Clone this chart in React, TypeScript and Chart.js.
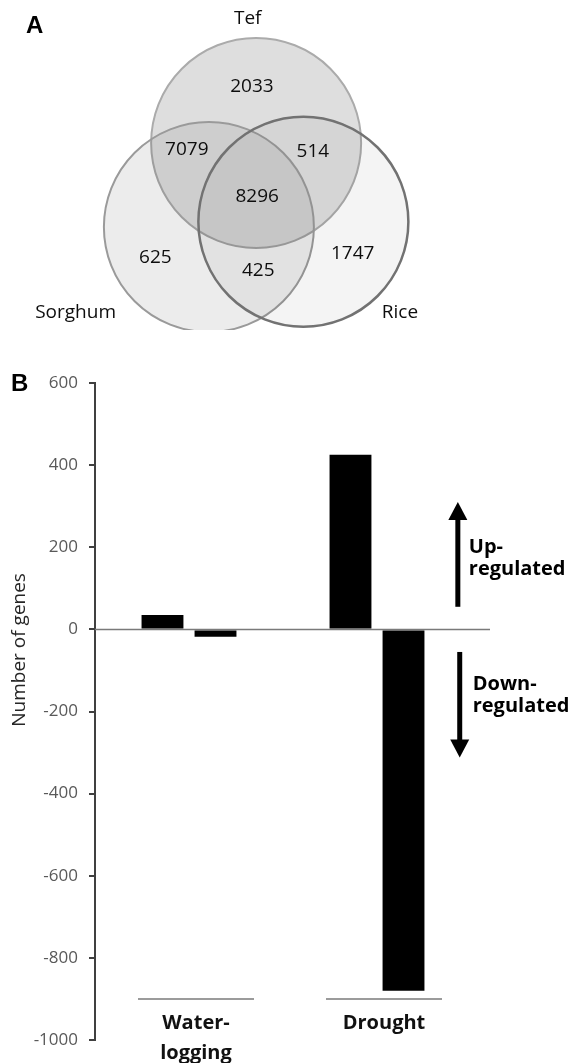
import React, { useEffect, useRef } from "react";
import { Chart, registerables } from "chart.js";

Chart.register(...registerables);

// ---------- Panel A: Venn diagram (layout units: circle radius = 1) ----------
const setNames = ["Tef", "Sorghum", "Rice"];
const setCenterX = [0, -0.45, 0.45];
const setCenterY = [0.75, -0.05, 0];
const setLabelX = [-0.08, -1.72, 1.37];
const setLabelY = [1.93, -0.86, -0.86];
const regionCounts = [2033, 7079, 514, 8296, 625, 425, 1747];
const regionLabelX = [-0.04, -0.66, 0.54, 0.01, -0.96, 0.02, 0.92];
const regionLabelY = [1.29, 0.69, 0.67, 0.24, -0.34, -0.46, -0.3];

// ---------- Panel B: bar chart ----------
const conditions = [["Water-", "logging"], ["Drought"]];
const upRegulated = [35, 425];
const downRegulated = [-18, -880];
const yMin = -1000;
const yMax = 600;
const yStep = 200;
const upLabel = ["Up-", "regulated"];
const downLabel = ["Down-", "regulated"];

const setFills = ["rgba(0,0,0,0.13)", "rgba(0,0,0,0.075)", "rgba(0,0,0,0.043)"];
const setStrokes = ["#ababab", "#9a9a9a", "#727272"];
const setStrokeW = [2, 2, 2.5];

const vennLabels = {
  id: "vennLabels",
  afterDatasetsDraw(chart: any) {
    const { ctx, scales } = chart;
    const sx = scales.x;
    const sy = scales.y;
    ctx.save();
    ctx.textAlign = "center";
    ctx.textBaseline = "middle";
    ctx.fillStyle = "#0d0d0d";
    ctx.font = "19px 'Open Sans'";
    regionCounts.forEach((v, i) => {
      ctx.fillText(String(v), sx.getPixelForValue(regionLabelX[i]), sy.getPixelForValue(regionLabelY[i]));
    });
    setNames.forEach((n, i) => {
      ctx.fillText(n, sx.getPixelForValue(setLabelX[i]), sy.getPixelForValue(setLabelY[i]));
    });
    ctx.font = "bold 24px 'Liberation Sans', Arial";
    ctx.textAlign = "left";
    ctx.fillStyle = "#000";
    ctx.fillText("A", 26, 26);
    ctx.restore();
  },
};

function drawArrow(ctx: any, x: number, y0: number, y1: number) {
  const dir = y1 < y0 ? -1 : 1;
  const headLen = 18;
  const headHalf = 9.5;
  ctx.beginPath();
  ctx.lineWidth = 5;
  ctx.strokeStyle = "#000";
  ctx.moveTo(x, y0);
  ctx.lineTo(x, y1 - dir * headLen + dir * 2);
  ctx.stroke();
  ctx.beginPath();
  ctx.fillStyle = "#000";
  ctx.moveTo(x, y1);
  ctx.lineTo(x - headHalf, y1 - dir * headLen);
  ctx.lineTo(x + headHalf, y1 - dir * headLen);
  ctx.closePath();
  ctx.fill();
}

const barDecor = {
  id: "barDecor",
  beforeDatasetsDraw(chart: any) {
    const { ctx, scales } = chart;
    const sx = scales.x;
    const sy = scales.y;
    const y0 = sy.getPixelForValue(0);
    ctx.save();
    ctx.strokeStyle = "#7a7a7a";
    ctx.lineWidth = 1.5;
    ctx.beginPath();
    ctx.moveTo(sx.left, y0);
    ctx.lineTo(sx.right + 19, y0);
    ctx.stroke();
    ctx.restore();
  },
  afterDatasetsDraw(chart: any) {
    const { ctx, scales } = chart;
    const sx = scales.x;
    const sy = scales.y;
    ctx.save();
    // arrows
    const ax1 = sx.getPixelForValue(1.43);
    const ax2 = sx.getPixelForValue(1.44);
    drawArrow(ctx, ax1, sy.getPixelForValue(55), sy.getPixelForValue(310));
    drawArrow(ctx, ax2, sy.getPixelForValue(-55), sy.getPixelForValue(-312));
    ctx.fillStyle = "#000";
    ctx.font = "bold 20px 'Open Sans'";
    ctx.textAlign = "left";
    ctx.textBaseline = "middle";
    ctx.fillText(upLabel[0], ax1 + 11, sy.getPixelForValue(200));
    ctx.fillText(upLabel[1], ax1 + 11, sy.getPixelForValue(146));
    ctx.fillText(downLabel[0], ax2 + 13, sy.getPixelForValue(-134));
    ctx.fillText(downLabel[1], ax2 + 13, sy.getPixelForValue(-188));
    // category underlines and labels
    const uy = sy.getPixelForValue(-900);
    conditions.forEach((lines, i) => {
      const cx = sx.getPixelForValue(i) + 7;
      ctx.strokeStyle = "#7a7a7a";
      ctx.lineWidth = 1.5;
      ctx.beginPath();
      ctx.moveTo(cx - 58, uy);
      ctx.lineTo(cx + 58, uy);
      ctx.stroke();
      ctx.fillStyle = "#111";
      ctx.textAlign = "center";
      ctx.font = "bold 20px 'Open Sans'";
      lines.forEach((t, k) => ctx.fillText(t, cx, uy + 24 + k * 30));
    });
    // axis title
    ctx.save();
    ctx.translate(20, sy.getPixelForValue(-50));
    ctx.rotate(-Math.PI / 2);
    ctx.textAlign = "center";
    ctx.fillStyle = "#262626";
    ctx.font = "19px 'Open Sans'";
    ctx.fillText("Number of genes", 0, 0);
    ctx.restore();
    // panel letter
    ctx.fillStyle = "#000";
    ctx.textAlign = "left";
    ctx.font = "bold 24px 'Liberation Sans', Arial";
    ctx.fillText("B", 11, sy.getPixelForValue(yMax) + 1);
    ctx.restore();
  },
};

export default function App() {
  const vennRef = useRef<HTMLCanvasElement>(null);
  const barRef = useRef<HTMLCanvasElement>(null);

  useEffect(() => {
    const venn = new Chart(vennRef.current as HTMLCanvasElement, {
      type: "scatter",
      data: {
        datasets: setNames.map((name, i) => ({
          label: name,
          data: [{ x: setCenterX[i], y: setCenterY[i] }],
          pointRadius: 105,
          pointHoverRadius: 105,
          pointBackgroundColor: setFills[i],
          pointBorderColor: setStrokes[i],
          pointBorderWidth: setStrokeW[i],
          order: 3 - i,
        })),
      },
      options: {
        responsive: false,
        animation: false,
        events: [],
        layout: { padding: 0, autoPadding: false },
        plugins: { legend: { display: false }, tooltip: { enabled: false } },
        scales: {
          x: { type: "linear", display: false, min: -2.44, max: 2.99 },
          y: { type: "linear", display: false, min: -1.03, max: 2.11 },
        },
      },
      plugins: [vennLabels],
    } as any);

    const bar = new Chart(barRef.current as HTMLCanvasElement, {
      type: "bar",
      data: {
        labels: conditions.map((c) => c.join("")),
        datasets: [
          {
            label: "Up-regulated",
            data: upRegulated,
            backgroundColor: "#000",
            borderWidth: 0,
            barPercentage: 0.79,
            categoryPercentage: 0.564,
          },
          {
            label: "Down-regulated",
            data: downRegulated,
            backgroundColor: "#000",
            borderWidth: 0,
            barPercentage: 0.79,
            categoryPercentage: 0.564,
          },
        ],
      },
      options: {
        responsive: false,
        animation: false,
        events: [],
        layout: { padding: { left: 0, right: 99, top: 53, bottom: 23 }, autoPadding: false },
        plugins: { legend: { display: false }, tooltip: { enabled: false } },
        scales: {
          x: { display: false },
          y: {
            min: yMin,
            max: yMax,
            ticks: {
              stepSize: yStep,
              color: "#595959",
              font: { family: "'Open Sans'", size: 17 },
              padding: 11,
              callback: (v: any) => String(v),
            },
            grid: {
              drawOnChartArea: false,
              drawTicks: true,
              tickLength: 6,
              color: "#404040",
              lineWidth: 2,
            },
            border: { color: "#404040", width: 2 },
            afterFit(scale: any) {
              scale.width = 95;
            },
          },
        },
      },
      plugins: [barDecor],
    } as any);

    return () => {
      venn.destroy();
      bar.destroy();
    };
  }, []);

  return (
    <div style={{ position: "absolute", left: 0, top: 0, width: 570, height: 1063, background: "#fff" }}>
      <canvas ref={vennRef} width={570} height={330} style={{ position: "absolute", left: 0, top: 0, display: "block" }} />
      <canvas ref={barRef} width={570} height={733} style={{ position: "absolute", left: 0, top: 330, display: "block" }} />
    </div>
  );
}
